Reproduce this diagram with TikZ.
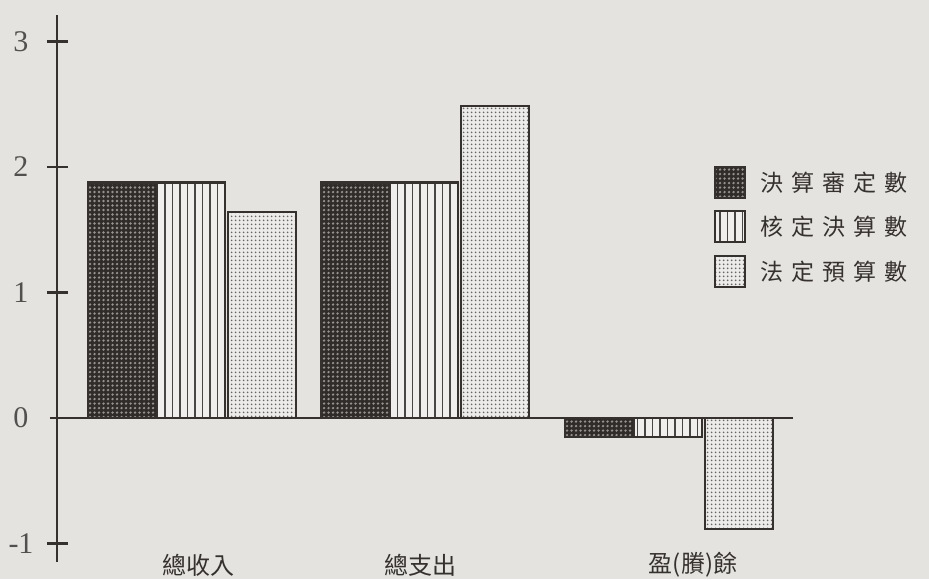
\documentclass[tikz,border=0pt]{standalone}
\usepackage{fontspec}
\setmainfont{Liberation Serif}
\newfontfamily\cjk{Noto Sans CJK TC}
\usetikzlibrary{patterns.meta}
\definecolor{paper}{RGB}{229,227,223}
\definecolor{ink}{RGB}{52,49,47}
\newcommand{\lsp}{\hspace{8pt}}
\tikzset{
    bar/.style={draw=ink, line width=2.2pt},
    audited/.style={bar, preaction={fill=ink!90!black}, pattern={Dots[distance=4.5pt, radius=1.3pt]}, pattern color=paper!55!ink},
    approved/.style={bar, preaction={fill=paper!60!white}, pattern={Lines[angle=90, distance=7.5pt, line width=1.6pt]}, pattern color=ink!90},
    statutory/.style={bar, preaction={fill=paper!70!white}, pattern={Dots[distance=4pt, radius=1.2pt]}, pattern color=ink!75},
    axis/.style={draw=ink, line width=2.8pt},
    tick/.style={draw=ink, line width=2.2pt},
    ticklab/.style={font=\fontsize{30}{32}\selectfont, text=ink!85},
    catlab/.style={font=\cjk\fontsize{24}{28}\selectfont, text=ink},
    leglab/.style={font=\cjk\fontsize{23}{26}\selectfont, text=ink, anchor=west, inner sep=0pt}
}

\begin{document}
\begin{tikzpicture}[x=1pt, y=125.5pt]
    \fill[paper] (-57,-1.283) rectangle (872,3.331);
    \useasboundingbox (-57,-1.283) rectangle (872,3.331);

    % bars: start, three values
    \foreach \s/\a/\b/\c in {31/1.876/1.876/1.64, 264/1.876/1.876/2.486, 508/-0.151/-0.151/-0.884} {
        \draw[audited] (\s,0) rectangle ++(69,\a);
        \draw[approved] (\s+69,0) rectangle ++(68,\b);
        \draw[statutory] (\s+140,0) rectangle ++(68,\c);
    }

    % axes
    \coordinate (ytop) at (0,3.21);
    \coordinate (ybot) at (0,-1.147);
    \coordinate (xleft) at (-7,0);
    \coordinate (xright) at (736,0);
    \draw[axis] (ybot) -- (ytop);
    \draw[axis] (xleft) -- (xright);
    \foreach \v in {3,2,1,-1}
        \draw[tick] (-10,\v) -- (11,\v);
    \foreach \v in {3,2,1,0,-1}
        \node[ticklab] (t\v) at (-36,\v) {\v};

    \node[catlab] (rev) at (141,-1.171) {總收入};
    \node[catlab] (exp) at (363,-1.171) {總支出};
    \node[catlab] (bal) at (636,-1.171) {盈(賸)餘};

    % legend
    \foreach \y/\st/\txt [count=\i] in {1.876/audited/決\lsp 算\lsp 審\lsp 定\lsp 數,
                                      1.526/approved/核\lsp 定\lsp 決\lsp 算\lsp 數,
                                      1.167/statutory/法\lsp 定\lsp 預\lsp 算\lsp 數} {
        \draw[\st] (658,\y-0.1235) rectangle ++(30,0.247);
        \node[leglab] (leg\i) at (703,\y) {\txt};
    }
\end{tikzpicture}
\end{document}
